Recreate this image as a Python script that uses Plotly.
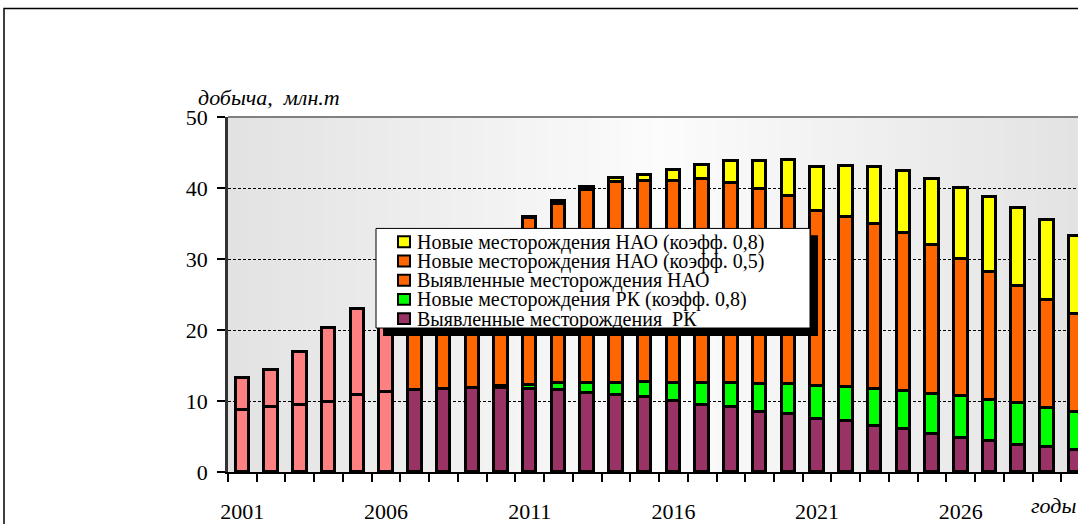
import plotly.graph_objects as go

# Годы и значения (млн.т)
years = list(range(2001, 2031))

rk_found = [8.7, 9.1, 9.5, 9.9, 10.9, 11.25, 11.6, 11.7, 11.8, 11.85,
            11.7, 11.5, 11.15, 10.9, 10.5, 10.0, 9.5, 9.1, 8.5, 8.15,
            7.45, 7.2, 6.5, 6.0, 5.4, 4.8, 4.35, 3.85, 3.5, 3.15]
rk_new = [None, None, None, None, None, None, None, None, None, 0.2,
          0.5, 1.1, 1.45, 1.7, 2.2, 2.6, 3.0, 3.4, 3.95, 4.25,
          4.65, 4.8, 5.2, 5.4, 5.6, 5.9, 5.85, 5.85, 5.5, 5.35]
nao_found = [4.6, 5.2, 7.4, 10.4, 12.1, 14.25, 15.9, 18.3, 20.2, 21.7,
             23.6, 25.2, 27.1, 28.2, 28.3, 28.45, 28.7, 28.2, 27.4, 26.45,
             24.7, 23.9, 23.3, 22.3, 21.0, 19.35, 17.9, 16.5, 15.25, 13.8]
nao_new_05 = [None] * 30
nao_new_08 = [None, None, None, None, None, None, None, None, None, None,
              0.15, 0.35, 0.5, 0.55, 0.8, 1.45, 2.1, 3.1, 3.95, 5.15,
              6.1, 7.2, 7.9, 8.7, 9.3, 9.95, 10.6, 11.0, 11.3, 11.0]

x_labels = [2001, 2006, 2011, 2016, 2021, 2026]

names = [
    "Новые месторождения НАО (коэфф. 0,8)",
    "Новые месторождения НАО (коэфф. 0,5)",
    "Выявленные месторождения НАО",
    "Новые месторождения РК (коэфф. 0,8)",
    "Выявленные месторождения  РК",
]

COLORS = {
    "pink": "#FF8080",
    "purple": "#993366",
    "green": "#00FF00",
    "orange": "#FF6600",
    "yellow": "#FFFF00",
}
FONT = "Liberation Serif"
N_HIST = 6  # первые годы - факт, розовым

# пиксели -> paper (область построения 228..1078 по x, 477..117 по y)
def px(x):
    return (x - 228) / 850.0


def py(y):
    return (477 - y) / 360.0


fig = go.Figure()

series = [
    (rk_found, [COLORS["pink"]] * N_HIST + [COLORS["purple"]] * (30 - N_HIST)),
    (rk_new, COLORS["green"]),
    (nao_found, [COLORS["pink"]] * N_HIST + [COLORS["orange"]] * (30 - N_HIST)),
    (nao_new_05, COLORS["orange"]),
    (nao_new_08, COLORS["yellow"]),
]
for (vals, col), nm in zip(series, names[::-1]):
    fig.add_trace(go.Bar(
        x=years, y=vals, name=nm, width=0.47,
        marker=dict(color=col, line=dict(color="black", width=3)),
        showlegend=False,
    ))

shapes = []
# градиентный фон области построения
n = 80
for i in range(n):
    x0 = 228 + i * 850 / n
    x1 = 228 + (i + 1) * 850 / n
    mid = (x0 + x1) / 2
    t = 1 - abs(mid - 659) / 431
    lvl = int(round(226 + 26 * max(t, 0)))
    shapes.append(dict(type="rect", xref="paper", yref="paper",
                       x0=px(x0), x1=px(x1) + 0.002, y0=0, y1=1,
                       fillcolor=f"rgb({lvl},{lvl},{lvl})", line=dict(width=0),
                       layer="below"))
# верхняя серая граница
shapes.append(dict(type="line", xref="paper", yref="paper", x0=0, x1=1, y0=1, y1=1,
                   line=dict(color="#808080", width=2)))
# рамка всего рисунка
shapes.append(dict(type="rect", xref="paper", yref="paper",
                   x0=px(4), x1=px(1100), y0=py(560), y1=py(7),
                   line=dict(color="black", width=1.5)))
# легенда: тень, рамка, значки
shapes.append(dict(type="rect", xref="paper", yref="paper",
                   x0=px(383), x1=px(818), y0=py(339), y1=py(237),
                   fillcolor="black", line=dict(width=0)))
shapes.append(dict(type="rect", xref="paper", yref="paper",
                   x0=px(376), x1=px(810), y0=py(331), y1=py(230),
                   fillcolor="white", line=dict(color="black", width=1)))

legend_colors = [COLORS["yellow"], COLORS["orange"], COLORS["orange"],
                 COLORS["green"], COLORS["purple"]]
row_y = [243.5, 263, 282.5, 302, 321.5]
annotations = []
for nm, col, yy in zip(names, legend_colors, row_y):
    shapes.append(dict(type="rect", xref="paper", yref="paper",
                       x0=px(398), x1=px(410), y0=py(yy + 5.5), y1=py(yy - 5.5),
                       fillcolor=col, line=dict(color="black", width=2)))
    annotations.append(dict(x=px(415), y=py(yy + 0.5), xref="paper", yref="paper",
                            text=nm, showarrow=False, xanchor="left", yanchor="middle",
                            font=dict(family=FONT, size=20, color="black")))

annotations.append(dict(x=px(196), y=py(97), xref="paper", yref="paper",
                        text="<i>добыча,\u00a0 млн.т</i>", showarrow=False,
                        xanchor="left", yanchor="middle",
                        font=dict(family=FONT, size=22, color="black")))
annotations.append(dict(x=px(1029), y=py(511), xref="paper", yref="paper",
                        text="<i>годы</i>", showarrow=False,
                        xanchor="left", yanchor="middle",
                        font=dict(family=FONT, size=22, color="black")))

fig.update_layout(
    width=1078, height=524,
    margin=dict(l=228, r=0, t=117, b=47),
    paper_bgcolor="white",
    plot_bgcolor="rgba(0,0,0,0)",
    barmode="stack",
    bargap=0,
    font=dict(family=FONT, size=22, color="black"),
    shapes=shapes,
    annotations=annotations,
)
fig.update_xaxes(
    range=[2000.5, 2030.08],
    tickmode="array", tickvals=x_labels, ticktext=[str(v) for v in x_labels],
    ticks="", showgrid=False, zeroline=False,
    showline=True, linecolor="black", linewidth=2,
    tickfont=dict(family=FONT, size=22, color="black"),
    ticklabelstandoff=19,
    minor=dict(tickmode="array", tickvals=[y - 0.5 for y in years] + [2030.5],
               ticks="outside", ticklen=8, tickcolor="black", tickwidth=1.5,
               showgrid=False),
)
fig.update_yaxes(
    range=[0, 50], dtick=10,
    ticks="outside", ticklen=8, tickcolor="black", tickwidth=1.5,
    showline=True, linecolor="#333333", linewidth=2.5,
    showgrid=True, gridcolor="black", gridwidth=1, griddash="3px,2px",
    zeroline=False,
    tickfont=dict(family=FONT, size=22, color="black"),
    ticklabelstandoff=5,
)

# убрать стандартный отступ body, чтобы рисунок лег точно в окно
fig.write_html("out.html", config={"displayModeBar": False},
               post_script="document.body.style.margin='0';")
